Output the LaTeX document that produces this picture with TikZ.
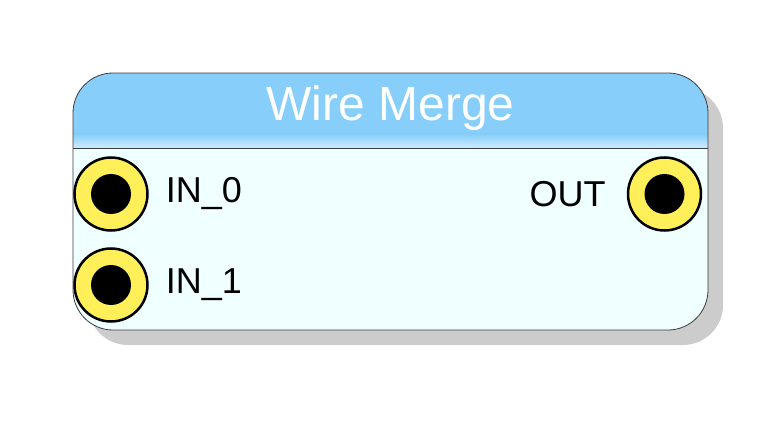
\documentclass[tikz,border=0pt]{standalone}
\usepackage{fontspec}
\setmainfont{Liberation Sans}
\usetikzlibrary{positioning}

\definecolor{headblue}{RGB}{135,206,250}
\definecolor{headpale}{RGB}{205,236,255}
\definecolor{bodycyan}{RGB}{240,255,255}
\definecolor{portyellow}{RGB}{255,240,90}
\definecolor{shadowgray}{RGB}{204,204,204}
\definecolor{edgegray}{RGB}{60,60,60}

\tikzset{
  port/.style={circle,fill=portyellow,draw=black,line width=2.5pt,minimum size=73pt,inner sep=0pt},
  portlabel/.style={inner sep=0pt,font=\fontsize{36}{40}\selectfont},
}

\begin{document}
\begin{tikzpicture}[x=1pt,y=-1pt]
\useasboundingbox (0,0) rectangle (782,425);
\fill[shadowgray,rounded corners=40pt] (88,88) rectangle (723,345);
\begin{scope}
\clip[rounded corners=40pt] (73,73) rectangle (708,330);
\fill[bodycyan] (73,73) rectangle (708,330);
\fill[headblue] (73,73) rectangle (708,148);
\shade[top color=headblue,bottom color=headpale] (73,134) rectangle (708,148);
\end{scope}
\draw[edgegray,line width=0.8pt] (73,148) -- (708,148);
\draw[edgegray,line width=0.8pt,rounded corners=40pt] (73,73) rectangle (708,330);
\node[white,font=\fontsize{48}{52}\selectfont] (title) at (390.5,108) {Wire Merge};

\node[port] (in0) at (111,194) {};
\node[port] (in1) at (111,285) {};
\node[port] (out) at (664.5,194) {};
\foreach \p in {in0,in1,out}
  \fill[black] (\p.center) circle (20pt);

\node[portlabel,right=17pt of in0] (in0label) {IN\_0};
\node[portlabel,right=17pt of in1] (in1label) {IN\_1};
\node[portlabel,left=21pt of out] (outlabel) {OUT};
\end{tikzpicture}
\end{document}
